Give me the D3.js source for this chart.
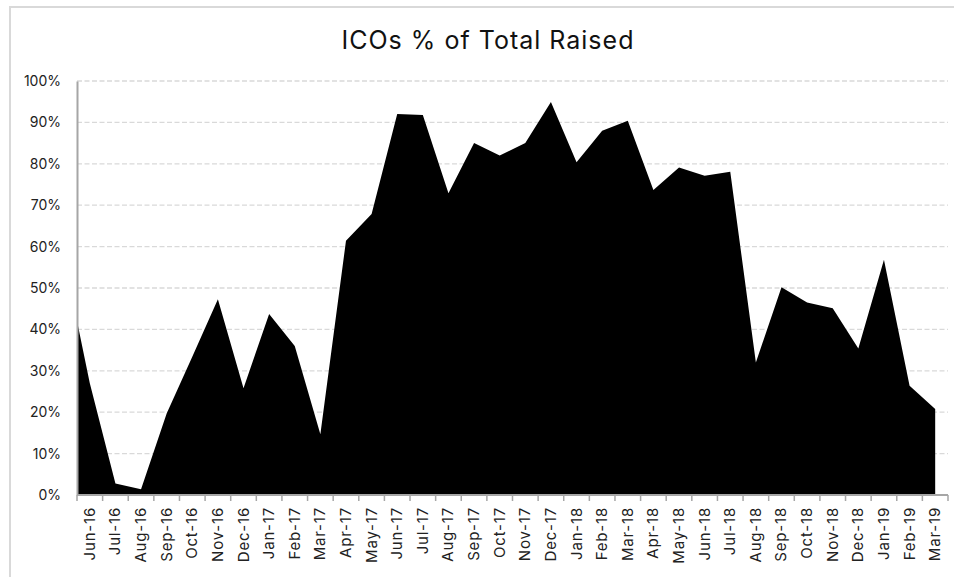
<!DOCTYPE html>
<html>
<head>
<meta charset="utf-8">
<script src="https://cdn.jsdelivr.net/npm/d3@7"></script>
<style>
  html, body { margin: 0; padding: 0; background: #fff; }
  svg { display: block; font-family: Inter, "Liberation Sans", Arial, sans-serif; }
</style>
</head>
<body>
<svg id="chart" width="954" height="577"></svg>
<script>
// ---- data ----
const title = "ICOs % of Total Raised";
const categories = ["Jun-16","Jul-16","Aug-16","Sep-16","Oct-16","Nov-16","Dec-16","Jan-17","Feb-17","Mar-17","Apr-17","May-17","Jun-17","Jul-17","Aug-17","Sep-17","Oct-17","Nov-17","Dec-17","Jan-18","Feb-18","Mar-18","Apr-18","May-18","Jun-18","Jul-18","Aug-18","Sep-18","Oct-18","Nov-18","Dec-18","Jan-19","Feb-19","Mar-19"];
const values = [0.27,0.028,0.014,0.197,0.334,0.473,0.258,0.437,0.360,0.147,0.614,0.679,0.920,0.918,0.729,0.850,0.820,0.850,0.949,0.804,0.880,0.904,0.737,0.791,0.771,0.781,0.320,0.502,0.465,0.451,0.354,0.568,0.264,0.208];
// preceding month (May-16), only partly visible at the left edge of the plot
const priorCategory = "May-16";
const priorValue = 0.57;
const yTicks = [0,0.1,0.2,0.3,0.4,0.5,0.6,0.7,0.8,0.9,1.0];

// ---- layout ----
const svg = d3.select("#chart");
const W = 954, H = 577;
const plot = { left: 77, right: 948, top: 81, bottom: 495 };

// frame
svg.append("line").attr("x1", 10).attr("x2", W).attr("y1", 7).attr("y2", 7)
  .attr("stroke", "#d9d9d9").attr("stroke-width", 2);
svg.append("line").attr("x1", 10).attr("x2", 10).attr("y1", 6).attr("y2", H)
  .attr("stroke", "#d9d9d9").attr("stroke-width", 2);

// title
svg.append("text").attr("x", 488).attr("y", 49).attr("text-anchor", "middle")
  .attr("font-size", 25).attr("letter-spacing", 1).attr("fill", "#111").text(title);

const x = d3.scaleBand().domain(categories).range([plot.left, plot.right]).paddingInner(0).paddingOuter(0);
const y = d3.scaleLinear().domain([0, 1]).range([plot.bottom, plot.top]);

// gridlines
svg.append("g").selectAll("line").data(yTicks.filter(d => d > 0)).join("line")
  .attr("x1", plot.left).attr("x2", plot.right)
  .attr("y1", d => y(d)).attr("y2", d => y(d))
  .attr("stroke", "#d9d9d9").attr("stroke-width", 1.3).attr("stroke-dasharray", "5,2.5");

// area
const pts = [{ c: priorCategory, v: priorValue, xp: x(categories[0]) - x.bandwidth() / 2 }]
  .concat(categories.map((c, i) => ({ c, v: values[i], xp: x(c) + x.bandwidth() / 2 })));
svg.append("clipPath").attr("id", "clip").append("rect")
  .attr("x", plot.left).attr("y", plot.top - 5).attr("width", plot.right - plot.left).attr("height", plot.bottom - plot.top + 5);
const area = d3.area().x(d => d.xp).y0(y(0)).y1(d => y(d.v));
svg.append("path").datum(pts).attr("d", area).attr("fill", "#000").attr("clip-path", "url(#clip)");

// y axis
const yAxis = d3.axisLeft(y).tickValues(yTicks).tickFormat(d3.format(".0%")).tickSize(0).tickPadding(16);
const gy = svg.append("g").attr("transform", `translate(${plot.left},0)`).call(yAxis);
gy.select(".domain").attr("stroke", "#a6a6a6").attr("stroke-width", 2);
gy.selectAll("text").attr("font-size", 14).attr("fill", "#222")
  .attr("font-family", "Inter, 'Liberation Sans', Arial, sans-serif");

// x axis (ticks between categories)
const gx = svg.append("g").attr("transform", `translate(0,${plot.bottom})`);
gx.append("line").attr("x1", plot.left).attr("x2", plot.right).attr("y1", 0).attr("y2", 0)
  .attr("stroke", "#a6a6a6").attr("stroke-width", 2);
const tickPos = categories.map(c => x(c)).concat([plot.right]);
gx.selectAll("line.tk").data(tickPos).join("line").attr("class", "tk")
  .attr("x1", d => d).attr("x2", d => d).attr("y1", 0).attr("y2", 6)
  .attr("stroke", "#a6a6a6").attr("stroke-width", 1.5);
gx.selectAll("text").data(categories).join("text")
  .attr("transform", d => `translate(${x(d) + x.bandwidth() / 2 + 5},12) rotate(-90)`)
  .attr("text-anchor", "end").attr("font-size", 15).attr("fill", "#222")
  .attr("letter-spacing", 0.8)
  .text(d => d);
</script>
</body>
</html>
